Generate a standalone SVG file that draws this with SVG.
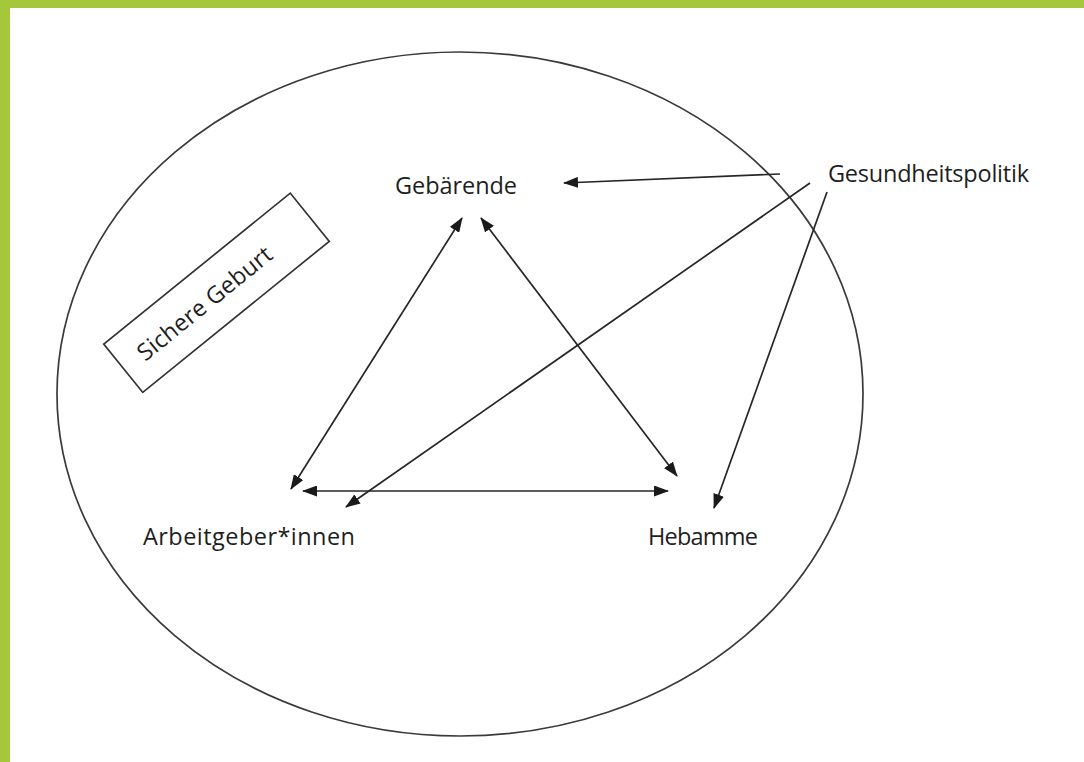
<svg xmlns="http://www.w3.org/2000/svg" width="1084" height="762" viewBox="0 0 1084 762">
<style>
.lbl{font-family:"Open Sans","Liberation Sans",sans-serif;font-size:23.5px;fill:#1e1e1e}
.ln{stroke:#262626;stroke-width:1.7;fill:none}
</style>
<defs>
<marker id="ah" markerUnits="userSpaceOnUse" markerWidth="15" markerHeight="11" refX="14" refY="5.5" orient="auto-start-reverse" viewBox="0 0 15 11">
<path d="M0,0 L15,5.5 L0,11 Z" fill="#1a1a1a"/>
</marker>
</defs>
<rect x="0" y="0" width="1084" height="762" fill="#ffffff"/>
<rect x="0" y="0" width="1084" height="8" fill="#A5C83A"/>
<rect x="0" y="0" width="10" height="762" fill="#A5C83A"/>
<g id="scope">
<ellipse cx="460" cy="394" rx="403" ry="342" fill="none" stroke="#3a3a3a" stroke-width="1.7"/>
</g>
<g id="sichere-geburt" transform="translate(216.5,292.75) rotate(-39)">
<rect x="-120" y="-31" width="240" height="62" fill="none" stroke="#333" stroke-width="1.7"/>
<text class="lbl" x="-16" y="9" text-anchor="middle" textLength="166" font-size="25">Sichere Geburt</text>
</g>
<g id="gebaerende"><text class="lbl" x="395" y="194" textLength="122">Gebärende</text></g>
<g id="gesundheitspolitik"><text class="lbl" x="828" y="182" textLength="201">Gesundheitspolitik</text></g>
<g id="arbeitgeber"><text class="lbl" x="143" y="545" textLength="212">Arbeitgeber*innen</text></g>
<g id="hebamme"><text class="lbl" x="648" y="545" textLength="110">Hebamme</text></g>
<g id="connectors">
<line class="ln" x1="780" y1="174" x2="564" y2="183" marker-end="url(#ah)"/>
<line class="ln" x1="810" y1="183" x2="346" y2="507" marker-end="url(#ah)"/>
<line class="ln" x1="827" y1="192" x2="714" y2="508" marker-end="url(#ah)"/>
<line class="ln" x1="462" y1="218" x2="291" y2="489" marker-start="url(#ah)" marker-end="url(#ah)"/>
<line class="ln" x1="481" y1="218" x2="677" y2="476" marker-start="url(#ah)" marker-end="url(#ah)"/>
<line class="ln" x1="303" y1="491" x2="668" y2="491" marker-start="url(#ah)" marker-end="url(#ah)"/>
</g>
</svg>
